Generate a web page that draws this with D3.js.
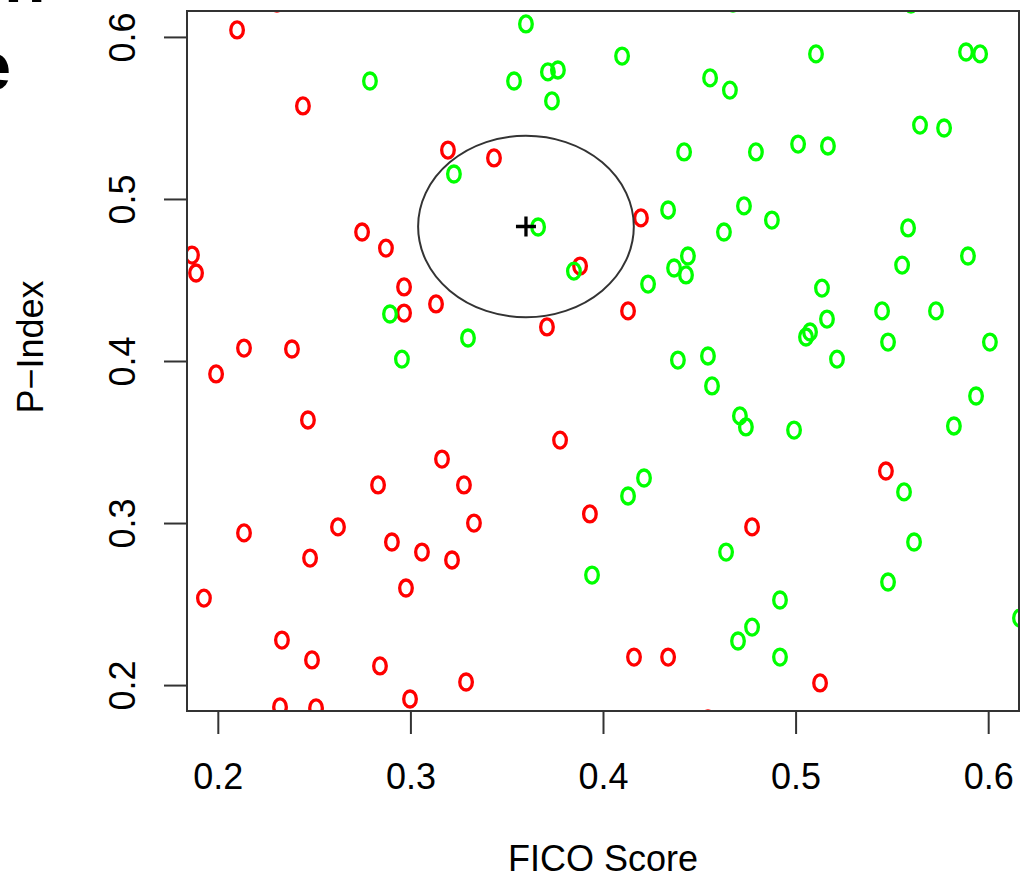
<!DOCTYPE html>
<html>
<head>
<meta charset="utf-8">
<script src="https://cdn.jsdelivr.net/npm/d3@7"></script>
<style>
  html, body { margin: 0; padding: 0; background: #fff; }
  svg { display: block; }
  text { font-family: "Liberation Sans", Arial, Helvetica, sans-serif; fill: #000; }
</style>
</head>
<body>
<script>
// Class 0 (red): FICO score and P-Index
const redX = [0.2100, 0.2307, 0.2442, 0.1866, 0.1887, 0.3195, 0.3434, 0.2749, 0.2873, 0.2967,
              0.2967, 0.3133, 0.3709, 0.3881, 0.4197, 0.4130, 0.2136, 0.2385, 0.1991, 0.2468,
              0.3777, 0.3164, 0.2832, 0.3278, 0.3330, 0.3932, 0.2136, 0.2624, 0.2904, 0.3060,
              0.3216, 0.2479, 0.2977, 0.1928, 0.2333, 0.2489, 0.2842, 0.3289, 0.2998, 0.2323,
              0.2510, 0.4774, 0.5469, 0.4161, 0.4338, 0.5127, 0.4545];
const redY = [0.6043, 0.6209, 0.5574, 0.4654, 0.4543, 0.5302, 0.5253, 0.4796, 0.4697, 0.4457,
              0.4296, 0.4352, 0.4210, 0.4586, 0.4883, 0.4309, 0.4080, 0.4074, 0.3920, 0.3636,
              0.3512, 0.3395, 0.3235, 0.3235, 0.3000, 0.3056, 0.2939, 0.2976, 0.2883, 0.2821,
              0.2772, 0.2784, 0.2599, 0.2537, 0.2278, 0.2155, 0.2118, 0.2019, 0.1914, 0.1865,
              0.1859, 0.2976, 0.3321, 0.2173, 0.2173, 0.2013, 0.1791];

// Class 1 (green): FICO score and P-Index
const greenX = [0.4675, 0.5599, 0.3600, 0.2790, 0.3538, 0.3714, 0.3766, 0.3735, 0.3226, 0.3663,
                0.3849, 0.2894, 0.3299, 0.2956, 0.4099, 0.5106, 0.5885, 0.5958, 0.4556, 0.4659,
                0.5646, 0.5771, 0.4421, 0.4794, 0.5013, 0.5168, 0.4338, 0.4732, 0.4877, 0.4628,
                0.5584, 0.4441, 0.4369, 0.4431, 0.5553, 0.5895, 0.4234, 0.5137, 0.5163, 0.5054,
                0.5075, 0.5449, 0.5729, 0.5480, 0.6009, 0.4389, 0.4545, 0.5215, 0.4566, 0.4711,
                0.4742, 0.4992, 0.5937, 0.5822, 0.4213, 0.4130, 0.5563, 0.3943, 0.4639, 0.5615,
                0.5480, 0.4919, 0.4774, 0.4701, 0.4919, 0.6165];
const greenY = [0.6209, 0.6203, 0.6080, 0.5728, 0.5728, 0.5784, 0.5796, 0.5605, 0.5154, 0.4827,
                0.4555, 0.4290, 0.4142, 0.4012, 0.5882, 0.5895, 0.5907, 0.5895, 0.5747, 0.5672,
                0.5456, 0.5438, 0.5290, 0.5290, 0.5339, 0.5327, 0.4932, 0.4957, 0.4870, 0.4796,
                0.4821, 0.4648, 0.4574, 0.4531, 0.4592, 0.4648, 0.4475, 0.4450, 0.4259, 0.4148,
                0.4179, 0.4309, 0.4309, 0.4117, 0.4117, 0.4006, 0.4031, 0.4012, 0.3846, 0.3661,
                0.3593, 0.3574, 0.3784, 0.3599, 0.3278, 0.3167, 0.3192, 0.2679, 0.2821, 0.2883,
                0.2636, 0.2525, 0.2358, 0.2272, 0.2173, 0.2414];

// Query point and its neighbourhood radius
const queryPoint = [0.360, 0.483];
const neighbourRadius = 0.056;

const xTicks = [0.2, 0.3, 0.4, 0.5, 0.6];
const yTicks = [0.2, 0.3, 0.4, 0.5, 0.6];
const xLabel = "FICO Score";
const yLabel = "P\u2212Index";

const W = 1020, H = 879;
const svg = d3.select("body").append("svg").attr("width", W).attr("height", H);

const x = d3.scaleLinear().domain([0.184, 0.616]).range([187, 1019]);
const y = d3.scaleLinear().domain([0.184, 0.616]).range([711, 11]);
const [x0, x1] = x.range();
const [y0, y1] = y.range();

// Clip marks to the plotting region
svg.append("clipPath").attr("id", "plotClip")
  .append("rect").attr("x", x0).attr("y", y1).attr("width", x1 - x0).attr("height", y0 - y1);

const plot = svg.append("g").attr("clip-path", "url(#plotClip)");

const reds = redX.map((v, i) => [v, redY[i]]);
const greens = greenX.map((v, i) => [v, greenY[i]]);

function drawPoints(data, colour) {
  plot.append("g").selectAll("ellipse").data(data).join("ellipse")
    .attr("cx", d => x(d[0]))
    .attr("cy", d => y(d[1]))
    .attr("rx", 6.3)
    .attr("ry", 8)
    .attr("fill", "none")
    .attr("stroke", colour)
    .attr("stroke-width", 3.3);
}
drawPoints(reds, "#ff0000");
drawPoints(greens, "#00ff00");

// Neighbourhood circle around the query point
plot.append("ellipse")
  .attr("cx", x(queryPoint[0]))
  .attr("cy", y(queryPoint[1]))
  .attr("rx", x(queryPoint[0] + neighbourRadius) - x(queryPoint[0]))
  .attr("ry", y(queryPoint[1]) - y(queryPoint[1] + neighbourRadius))
  .attr("fill", "none")
  .attr("stroke", "#333")
  .attr("stroke-width", 2);

// Query point marker
plot.append("path")
  .attr("transform", `translate(${x(queryPoint[0])},${y(queryPoint[1])})`)
  .attr("d", "M-10,0H10M0,-10V10")
  .attr("stroke", "#000")
  .attr("stroke-width", 3.3);

// Axes
const xAxis = svg.append("g").attr("transform", `translate(0,${y0})`)
  .call(d3.axisBottom(x).tickValues(xTicks).tickSize(23).tickFormat(d3.format(".1f")));
xAxis.select(".domain").remove();
xAxis.selectAll(".tick line").attr("stroke", "#333").attr("stroke-width", 2);
xAxis.selectAll(".tick text")
  .attr("y", 78).attr("dy", null)
  .style("font-size", "36px")
  .style("font-family", "'Liberation Sans', Arial, sans-serif")
  .attr("fill", "#000");

const yAxis = svg.append("g").attr("transform", `translate(${x0},0)`)
  .call(d3.axisLeft(y).tickValues(yTicks).tickSize(23).tickFormat(d3.format(".1f")));
yAxis.select(".domain").remove();
yAxis.selectAll(".tick line").attr("stroke", "#333").attr("stroke-width", 2);
yAxis.selectAll(".tick text")
  .attr("x", null).attr("dy", null)
  .attr("text-anchor", "middle")
  .attr("transform", "translate(-52,0) rotate(-90)")
  .style("font-size", "36px")
  .style("font-family", "'Liberation Sans', Arial, sans-serif")
  .attr("fill", "#000");

// Plot frame
svg.append("rect")
  .attr("x", x0).attr("y", y1)
  .attr("width", x1 - x0).attr("height", y0 - y1)
  .attr("fill", "none")
  .attr("stroke", "#333")
  .attr("stroke-width", 2);

// Axis titles
svg.append("text")
  .attr("x", (x0 + x1) / 2).attr("y", 871)
  .attr("text-anchor", "middle")
  .style("font-size", "36px")
  .text(xLabel);

svg.append("text")
  .attr("transform", "translate(43,347) rotate(-90)")
  .attr("text-anchor", "middle")
  .style("font-size", "36px")
  .text(yLabel);

// Title lines running off the left edge
svg.append("text")
  .attr("x", 4).attr("y", 2)
  .style("font-size", "68px").style("font-weight", "bold")
  .text("n");
svg.append("text")
  .attr("x", 11).attr("y", 90)
  .attr("text-anchor", "end")
  .style("font-size", "68px").style("font-weight", "bold")
  .text("e");
</script>
</body>
</html>
